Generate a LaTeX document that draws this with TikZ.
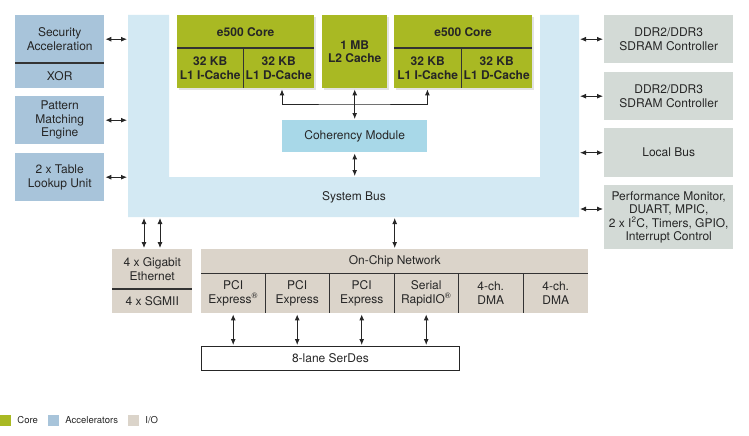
\documentclass[tikz,border=0pt]{standalone}
\usepackage{fontspec}
\setmainfont{TeX Gyre Heros}
\usetikzlibrary{shadows,positioning,arrows.meta}
\definecolor{coregreen}{RGB}{169,185,35}
\definecolor{accelblue}{RGB}{168,196,218}
\definecolor{busblue}{RGB}{211,233,243}
\definecolor{cohblue}{RGB}{168,216,232}
\definecolor{ctrlgray}{RGB}{211,218,214}
\definecolor{iobeige}{RGB}{219,212,202}
\begin{document}
\begin{tikzpicture}[x=1pt, y=-1pt, font=\fontsize{12}{13.5}\selectfont, text=black!85,
		blk/.style={anchor=north west, inner sep=0pt, align=center},
		corebox/.style={blk, fill=coregreen, font=\fontsize{12}{13.5}\selectfont\bfseries,
			drop shadow={opacity=0.22, shadow xshift=1.5pt, shadow yshift=-2pt}},
		accel/.style={blk, fill=accelblue},
		ctrl/.style={blk, fill=ctrlgray},
		iobox/.style={blk, fill=iobeige},
		sep/.style={draw=black!80, line width=1.1pt},
		arr/.style={draw=black!85, {Latex[length=6pt,width=5pt]}-{Latex[length=6pt,width=5pt]}, line width=0.9pt, shorten >=1pt, shorten <=1pt},
		keybox/.style={inner sep=0pt, minimum size=11},
		keytext/.style={right=6pt of #1, inner sep=0pt, font=\fontsize{9.5}{11}\selectfont}]
		\useasboundingbox (0,0) rectangle (749,436);
		% system bus
		\fill[busblue] (128,15) -- (169,15) -- (169,177) -- (540,177) -- (540,15) -- (579,15) -- (579,217) -- (128,217) -- cycle;
		\coordinate (busw) at (128,0);
		\coordinate (buse) at (579,0);
		\coordinate (busb) at (0,217);
		\coordinate (busi) at (0,177);
		\node (buslbl) at (354,197) {System Bus};
		% cores and L2
		\node[corebox, minimum width=137, minimum height=33] (c1) at (177,15) {e500 Core};
		\node[corebox, minimum width=66, minimum height=40] (c1i) at (177,48) {32 KB\\L1 I-Cache};
		\node[corebox, minimum width=71, minimum height=40] (c1d) at (243,48) {32 KB\\L1 D-Cache};
		\draw[sep] (c1i.north west) -- (c1d.north east);
		\draw[sep] (c1i.north east) -- (c1i.south east);
		\node[corebox, minimum width=65, minimum height=73] (l2) at (322,15) {1 MB\\L2 Cache};
		\node[corebox, minimum width=138, minimum height=33] (c2) at (394,15) {e500 Core};
		\node[corebox, minimum width=67, minimum height=40] (c2i) at (394,48) {32 KB\\L1 I-Cache};
		\node[corebox, minimum width=71, minimum height=40] (c2d) at (461,48) {32 KB\\L1 D-Cache};
		\draw[sep] (c2i.north west) -- (c2d.north east);
		\draw[sep] (c2i.north east) -- (c2i.south east);
		\node[blk, fill=cohblue, minimum width=145, minimum height=32] (coh) at (282,120) {Coherency Module};
		\coordinate (jn) at (354,104);
		\draw[arr] (c1d.south -| coh.west) |- (jn) -| (c2i.south -| coh.east);
		\draw[arr] (l2.south) -- (coh.north);
		\draw[arr] (coh.south) -- (coh.south |- busi);
		% accelerators
		\node[accel, minimum width=89, minimum height=48] (sec) at (15,15) {Security\\Acceleration};
		\node[accel, minimum width=89, minimum height=25] (xor) at (15,63) {XOR};
		\draw[sep] (xor.north west) -- (xor.north east);
		\node[accel, minimum width=89, minimum height=48] (pme) at (15,96) {Pattern\\Matching\\Engine};
		\node[accel, minimum width=89, minimum height=48] (tlu) at (15,153) {2 x Table\\Lookup Unit};
		\draw[arr] (sec.east) -- (sec.east -| busw);
		\draw[arr] (pme.east) -- (pme.east -| busw);
		\draw[arr] (tlu.east) -- (tlu.east -| busw);
		% controllers
		\node[ctrl, minimum width=129, minimum height=48] (ddra) at (604,15) {DDR2/DDR3\\SDRAM Controller};
		\node[ctrl, minimum width=129, minimum height=48] (ddrb) at (604,72) {DDR2/DDR3\\SDRAM Controller};
		\node[ctrl, minimum width=129, minimum height=49] (lbus) at (604,128) {Local Bus};
		\node[ctrl, minimum width=129, minimum height=64] (pmon) at (604,185) {Performance Monitor,\\DUART, MPIC,\\2 x I\textsuperscript{2}C, Timers, GPIO,\\Interrupt Control};
		\coordinate (pm) at (0,209);
		\draw[arr] (ddra.west) -- (ddra.west -| buse);
		\draw[arr] (ddrb.west) -- (ddrb.west -| buse);
		\draw[arr] (lbus.west) -- (lbus.west -| buse);
		\draw[arr] (pmon.west |- pm) -- (buse |- pm);
		% I/O
		\node[iobox, minimum width=80, minimum height=40] (geth) at (112,249) {4 x Gigabit\\Ethernet};
		\node[iobox, minimum width=80, minimum height=24] (sgmii) at (112,289) {4 x SGMII};
		\draw[sep] (sgmii.north west) -- (sgmii.north east);
		\coordinate (gea) at (144,0);
		\coordinate (geb) at (160,0);
		\draw[arr] (geth.north -| gea) -- (gea |- busb);
		\draw[arr] (geth.north -| geb) -- (geb |- busb);
		\node[iobox, minimum width=387, minimum height=24] (ocn) at (201,249) {On-Chip Network};
		\node[iobox, minimum width=64, minimum height=40] (p1) at (201,273) {PCI\\Express\textsuperscript{\textregistered}};
		\node[iobox, minimum width=64, minimum height=40] (p2) at (265,273) {PCI\\Express};
		\node[iobox, minimum width=65, minimum height=40] (p3) at (329,273) {PCI\\Express};
		\node[iobox, minimum width=64, minimum height=40] (p4) at (394,273) {Serial\\RapidIO\textsuperscript{\textregistered}};
		\node[iobox, minimum width=65, minimum height=40] (p5) at (458,273) {4-ch.\\DMA};
		\node[iobox, minimum width=65, minimum height=40] (p6) at (523,273) {4-ch.\\DMA};
		\draw[sep] (ocn.south west) -- (ocn.south east);
		\foreach \i in {1,...,5}
			\draw[sep] (p\i.north east) -- (p\i.south east);
		\draw[arr] (ocn.north) -- (ocn.north |- busb);
		\node[blk, draw=black!85, fill=white, line width=0.8pt, minimum width=258, minimum height=24] (sds) at (201,346) {8-lane SerDes};
		\foreach \i in {1,...,4}
			\draw[arr] (p\i.south) -- (p\i.south |- sds.north);
		% legend
		\node[keybox, fill=coregreen] (kcore) at (5.5,420.5) {};
		\node[keytext=kcore] (kcoret) {Core};
		\node[keybox, fill=accelblue] (kacc) at (53.5,420.5) {};
		\node[keytext=kacc] (kacct) {Accelerators};
		\node[keybox, fill=iobeige] (kio) at (133.5,420.5) {};
		\node[keytext=kio] (kiot) {I/O};
\end{tikzpicture}
\end{document}
